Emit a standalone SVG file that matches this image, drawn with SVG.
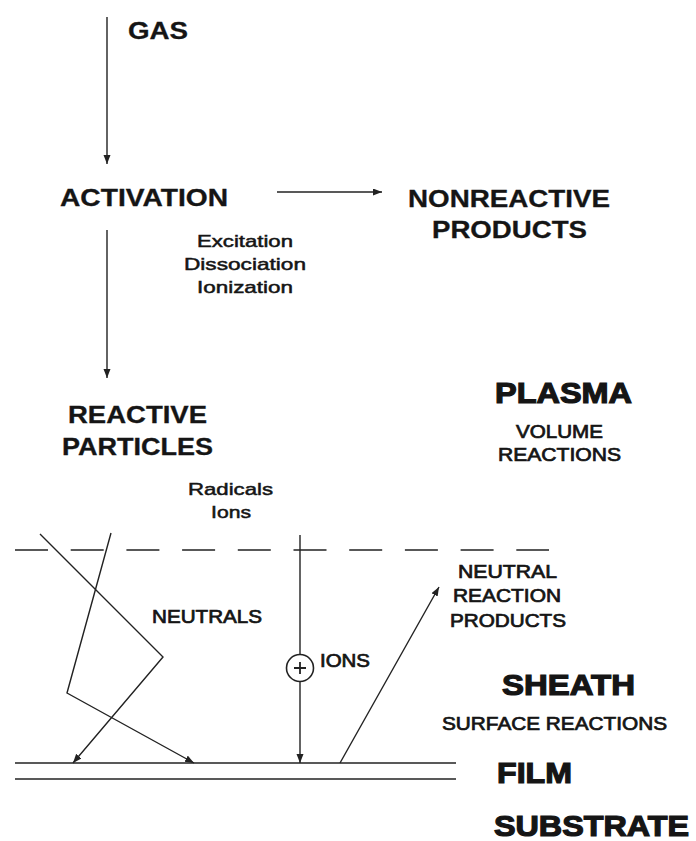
<svg xmlns="http://www.w3.org/2000/svg" width="696" height="841" viewBox="0 0 696 841">
<style>
.t{font-family:"Liberation Sans",Arial,Helvetica,sans-serif;fill:#151515}
.h{font-weight:bold;font-size:23px;stroke:#151515;stroke-width:0.3}
.s{font-size:17px;stroke:#151515;stroke-width:0.5}
.m{font-size:17.5px;stroke:#151515;stroke-width:0.7}
.big{font-weight:bold;font-size:29px;stroke:#151515;stroke-width:1.2}
.ln{stroke:#222;stroke-width:1.4;fill:none}
</style>
<defs>
<marker id="ah" markerUnits="userSpaceOnUse" markerWidth="10" markerHeight="8" refX="9" refY="3.5" orient="auto">
<path d="M0,0 L9,3.5 L0,7 z" fill="#222"/>
</marker>
</defs>
<rect width="696" height="841" fill="#fff"/>
<g id="connectors">
<line class="ln" x1="107" y1="17" x2="107" y2="164" marker-end="url(#ah)"/>
<line class="ln" x1="277" y1="192" x2="382" y2="192" marker-end="url(#ah)"/>
<line class="ln" x1="107" y1="230" x2="107" y2="378" marker-end="url(#ah)"/>
<line class="ln" x1="15" y1="550" x2="549" y2="550" stroke-dasharray="33 22.7"/>
<polyline class="ln" points="40,534 163,657 73,763" marker-end="url(#ah)"/>
<polyline class="ln" points="111,533 67,693 194,763" marker-end="url(#ah)"/>
<line class="ln" x1="300" y1="535" x2="300" y2="654"/>
<line class="ln" x1="300" y1="682" x2="300" y2="763" marker-end="url(#ah)"/>
<line class="ln" x1="340" y1="763" x2="439" y2="587" marker-end="url(#ah)"/>
<line class="ln" x1="15" y1="763" x2="456" y2="763"/>
<line class="ln" x1="15" y1="779" x2="456" y2="779"/>
</g>
<g id="gas"><text class="t h" x="128" y="39" textLength="60" lengthAdjust="spacingAndGlyphs">GAS</text></g>
<g id="activation"><text class="t h" x="60" y="206" textLength="168" lengthAdjust="spacingAndGlyphs">ACTIVATION</text></g>
<g id="nonreactive"><text class="t h" x="408" y="207" textLength="202" lengthAdjust="spacingAndGlyphs">NONREACTIVE</text>
<text class="t h" x="432" y="238" textLength="155" lengthAdjust="spacingAndGlyphs">PRODUCTS</text></g>
<g id="activation-types">
<text class="t s" x="197" y="247" textLength="96" lengthAdjust="spacingAndGlyphs">Excitation</text>
<text class="t s" x="184" y="270" textLength="122" lengthAdjust="spacingAndGlyphs">Dissociation</text>
<text class="t s" x="197" y="293" textLength="96" lengthAdjust="spacingAndGlyphs">Ionization</text>
</g>
<g id="reactive"><text class="t h" x="68" y="423" textLength="139" lengthAdjust="spacingAndGlyphs">REACTIVE</text>
<text class="t h" x="62" y="455" textLength="151" lengthAdjust="spacingAndGlyphs">PARTICLES</text></g>
<g id="reactive-types">
<text class="t s" x="188" y="495" textLength="85" lengthAdjust="spacingAndGlyphs">Radicals</text>
<text class="t s" x="211" y="518" textLength="40" lengthAdjust="spacingAndGlyphs">Ions</text>
</g>
<g id="plasma"><text class="t big" x="495" y="403" textLength="137" lengthAdjust="spacingAndGlyphs">PLASMA</text>
<text class="t m" x="516" y="438" textLength="87" lengthAdjust="spacingAndGlyphs">VOLUME</text>
<text class="t m" x="498" y="461" textLength="123" lengthAdjust="spacingAndGlyphs">REACTIONS</text></g>
<g id="neutrals"><text class="t m" x="152" y="623" textLength="110" lengthAdjust="spacingAndGlyphs">NEUTRALS</text></g>
<g id="ions"><circle cx="300" cy="668" r="13.5" fill="#fff" stroke="#222" stroke-width="1.6"/>
<path d="M294,668 H306 M300,662 V674" stroke="#222" stroke-width="1.8"/>
<text class="t m" x="320" y="667" textLength="50" lengthAdjust="spacingAndGlyphs">IONS</text></g>
<g id="neutral-products">
<text class="t m" x="458" y="578" textLength="99" lengthAdjust="spacingAndGlyphs">NEUTRAL</text>
<text class="t m" x="453" y="602" textLength="108" lengthAdjust="spacingAndGlyphs">REACTION</text>
<text class="t m" x="450" y="627" textLength="116" lengthAdjust="spacingAndGlyphs">PRODUCTS</text>
</g>
<g id="sheath"><text class="t big" x="502" y="695" textLength="133" lengthAdjust="spacingAndGlyphs">SHEATH</text>
<text class="t m" x="442" y="730" textLength="225" lengthAdjust="spacingAndGlyphs">SURFACE REACTIONS</text></g>
<g id="film"><text class="t big" x="497" y="783" textLength="75" lengthAdjust="spacingAndGlyphs">FILM</text></g>
<g id="substrate"><text class="t big" x="494" y="836" textLength="195" lengthAdjust="spacingAndGlyphs">SUBSTRATE</text></g>
</svg>
